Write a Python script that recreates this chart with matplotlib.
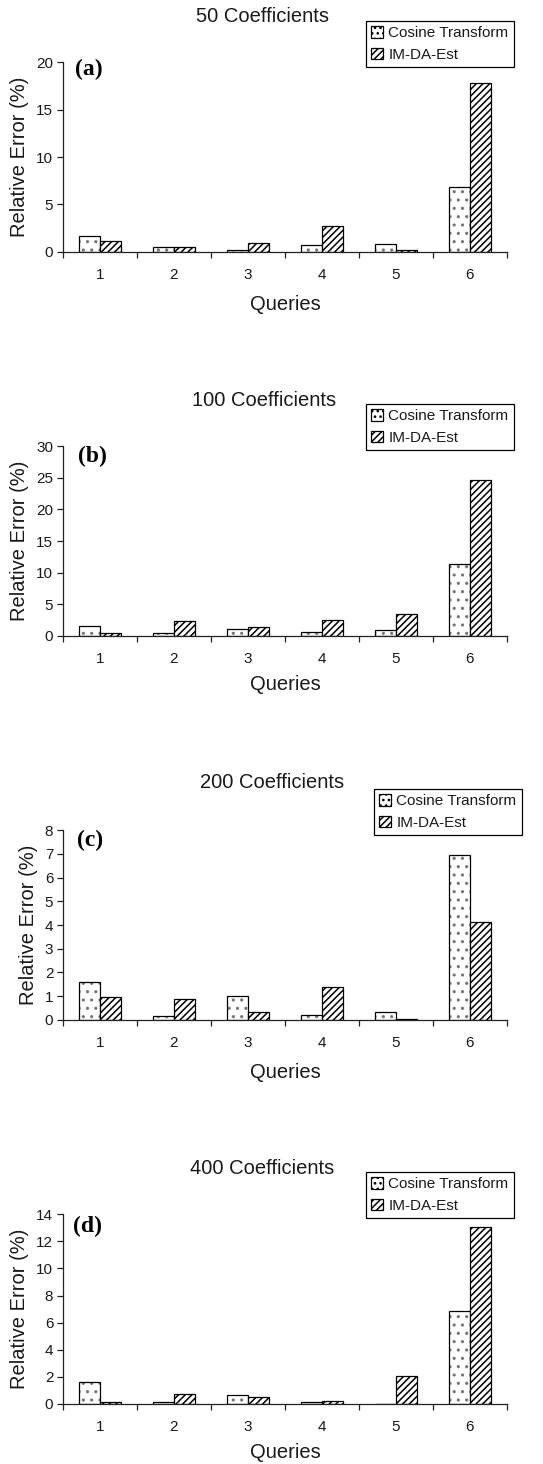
import matplotlib
matplotlib.use("Agg")
import matplotlib.pyplot as plt
import numpy as np

plt.rcParams['font.family'] = ['Liberation Sans', 'DejaVu Sans']
plt.rcParams['hatch.linewidth'] = 1.1

queries = ["1", "2", "3", "4", "5", "6"]
series_names = ["Cosine Transform", "IM-DA-Est"]
titles = ["50 Coefficients", "100 Coefficients", "200 Coefficients", "400 Coefficients"]
panel_tags = ["(a)", "(b)", "(c)", "(d)"]

cosine_50 = [1.72, 0.49, 0.15, 0.67, 0.84, 6.8]
imda_50 = [1.16, 0.49, 0.98, 2.77, 0.15, 17.86]
cosine_100 = [1.58, 0.37, 1.1, 0.53, 0.9, 11.3]
imda_100 = [0.37, 2.32, 1.32, 2.54, 3.43, 24.7]
cosine_200 = [1.58, 0.15, 1.0, 0.2, 0.35, 6.96]
imda_200 = [0.96, 0.86, 0.35, 1.38, 0.05, 4.11]
cosine_400 = [1.63, 0.1, 0.62, 0.1, 0.0, 6.88]
imda_400 = [0.1, 0.69, 0.47, 0.17, 2.02, 13.04]

y_max = [20, 30, 8, 14]
y_step = [5, 5, 1, 2]

cos_all = [cosine_50, cosine_100, cosine_200, cosine_400]
im_all = [imda_50, imda_100, imda_200, imda_400]

W, H = 543, 1464
fig = plt.figure(figsize=(W / 100, H / 100), dpi=100)

# layout in pixels
ax_left, ax_right = 63, 507
ax_tops = [62.3, 446.3, 830.3, 1214.3]
ax_h = 189.5
title_pos = [(263, 16), (264, 400), (272, 783), (262, 1168)]
legend_boxes = [(366, 21), (366, 404), (374, 789), (366, 1172)]
tag_pos = [(0.059, 0.963), (0.066, 0.949), (0.062, 0.949), (0.056, 0.938)]
xlabel_pad = [9, 6.5, 9, 6.3]

text_color = '#1a1a1a'
dot_color = '#777777'
bw = 1.0 / 3.5

for i in range(4):
    top = ax_tops[i]
    ax = fig.add_axes([ax_left / W, 1 - (top + ax_h) / H,
                       (ax_right - ax_left) / W, ax_h / H])
    x = np.arange(1, 7)
    # dotted fill (gray dots) then black outline
    ax.bar(x - bw / 2, cos_all[i], width=bw, facecolor='white',
           edgecolor=dot_color, linewidth=0, hatch='..')
    b1 = ax.bar(x - bw / 2, cos_all[i], width=bw, facecolor='none',
                edgecolor='black', linewidth=0.9)
    b2 = ax.bar(x + bw / 2, im_all[i], width=bw, facecolor='white',
                edgecolor='black', linewidth=0.9, hatch='/////')
    ax.set_xlim(0.5, 6.5)
    ax.set_ylim(0, y_max[i])
    ax.set_yticks(np.arange(0, y_max[i] + 0.01, y_step[i]))
    ax.spines['top'].set_visible(False)
    ax.spines['right'].set_visible(False)
    for s in ['left', 'bottom']:
        ax.spines[s].set_linewidth(0.9)
        ax.spines[s].set_color('#222222')
    ax.set_xticks(np.arange(0.5, 6.6, 1.0))
    ax.set_xticklabels([])
    ax.set_xticks(x, minor=True)
    ax.set_xticklabels(queries, minor=True)
    ax.tick_params(axis='x', which='major', direction='out', length=4,
                   width=0.9, color='#222222')
    ax.tick_params(axis='x', which='minor', length=0, pad=12,
                   labelsize=11, labelcolor=text_color)
    ax.tick_params(axis='y', direction='out', length=4, width=0.9,
                   color='#222222', labelsize=11, labelcolor=text_color, pad=3)
    ax.set_xlabel("Queries", fontsize=14.5, color=text_color,
                  labelpad=xlabel_pad[i])
    ax.set_ylabel("Relative Error (%)", fontsize=14.5, color=text_color,
                  labelpad=5)
    ax.text(tag_pos[i][0], tag_pos[i][1], panel_tags[i],
            transform=ax.transAxes, ha='center', va='center',
            fontsize=17, fontweight='bold', family='Liberation Serif',
            color='black')
    fig.text(title_pos[i][0] / W, 1 - title_pos[i][1] / H, titles[i],
             ha='center', va='center', fontsize=14.5, color=text_color)

    # legend handles
    h1 = plt.Rectangle((0, 0), 1, 1, facecolor='white', edgecolor='black',
                       linewidth=0.9, hatch='...')
    h2 = plt.Rectangle((0, 0), 1, 1, facecolor='white', edgecolor='black',
                       linewidth=0.9, hatch='/////')
    lx, ly = legend_boxes[i]
    leg = fig.legend(handles=[h1, h2], labels=series_names,
                     loc='upper left',
                     bbox_to_anchor=(lx / W, 1 - ly / H),
                     bbox_transform=fig.transFigure,
                     fontsize=11, frameon=True, fancybox=False,
                     edgecolor='black', framealpha=1,
                     handlelength=0.75, handleheight=0.75,
                     handletextpad=0.35, borderpad=0.35,
                     labelspacing=0.5, borderaxespad=0)
    leg.get_frame().set_linewidth(0.9)
    for t in leg.get_texts():
        t.set_color(text_color)

fig.savefig("out.png", dpi=100)
